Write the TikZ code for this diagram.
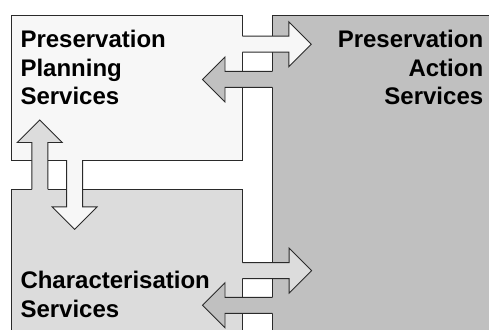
\documentclass[tikz,border=0pt]{standalone}
\usepackage{fontspec}
\setmainfont{Liberation Sans}
\definecolor{plancol}{HTML}{F7F7F7}
\definecolor{charcol}{HTML}{DCDCDC}
\definecolor{actcol}{HTML}{C0C0C0}
\definecolor{edgecol}{HTML}{2A2A2A}

% Block arrow: #1 fill colour, #2 start point on a box edge,
% #3 direction (degrees), #4 length from start to tip
\newcommand\blockarrow[4]{%
  \begin{scope}[shift={#2}, rotate=#3]
    \fill[#1] (-3,-8) -- (#4-22.5,-8) -- (#4-22.5,-22.5) -- (#4,0)
      -- (#4-22.5,22.5) -- (#4-22.5,8) -- (-3,8) -- cycle;
    \draw[edge] (0,-8) -- (#4-22.5,-8) -- (#4-22.5,-22.5) -- (#4,0)
      -- (#4-22.5,22.5) -- (#4-22.5,8) -- (0,8);
  \end{scope}}

\begin{document}
\begin{tikzpicture}[x=1pt, y=-1pt,
  edge/.style={draw=edgecol, line width=0.9pt, line join=miter},
  box/.style={edge, rectangle, inner sep=0pt, outer sep=0pt, anchor=north west},
  caption/.style={font=\fontsize{24}{28.6}\selectfont\bfseries, inner sep=0pt, text=black},
]
\clip (0,0) rectangle (489,329);
\fill[white] (0,0) rectangle (489,329);

% service boxes
\node[box, fill=actcol, minimum width=240pt, minimum height=340pt] (action) at (272.3,15) {};
\node[box, fill=plancol, minimum width=231.3pt, minimum height=145pt] (plan) at (11,15) {};
\node[box, fill=charcol, minimum width=231.3pt, minimum height=160pt] (char) at (11,189.3) {};

% arrow start points on the box edges
\coordinate (pa) at (plan.east |- 0,44.2);
\coordinate (ap) at (action.west |- 0,79.4);
\coordinate (ca) at (char.east |- 0,270.6);
\coordinate (ac) at (action.west |- 0,305.3);
\coordinate (cp) at (char.north -| 39.8,0);
\coordinate (pc) at (plan.south -| 74.6,0);

% exchanges between the services
\blockarrow{plancol}{(pa)}{0}{69}
\blockarrow{actcol}{(ap)}{180}{69.8}
\blockarrow{charcol}{(ca)}{0}{69.3}
\blockarrow{actcol}{(ac)}{180}{69.8}
\blockarrow{charcol}{(cp)}{90}{69.3}
\blockarrow{plancol}{(pc)}{-90}{69.3}

% box titles
\node[caption, anchor=north west, align=left] (plantext) at (20.3,30) {Preservation\\Planning\\Services};
\node[caption, anchor=north east, align=right] (acttext) at (483.4,30) {Preservation\\Action\\Services};
\node[caption, anchor=north west, align=left] (chartext) at (20.3,271) {Characterisation\\Services};
\end{tikzpicture}
\end{document}
